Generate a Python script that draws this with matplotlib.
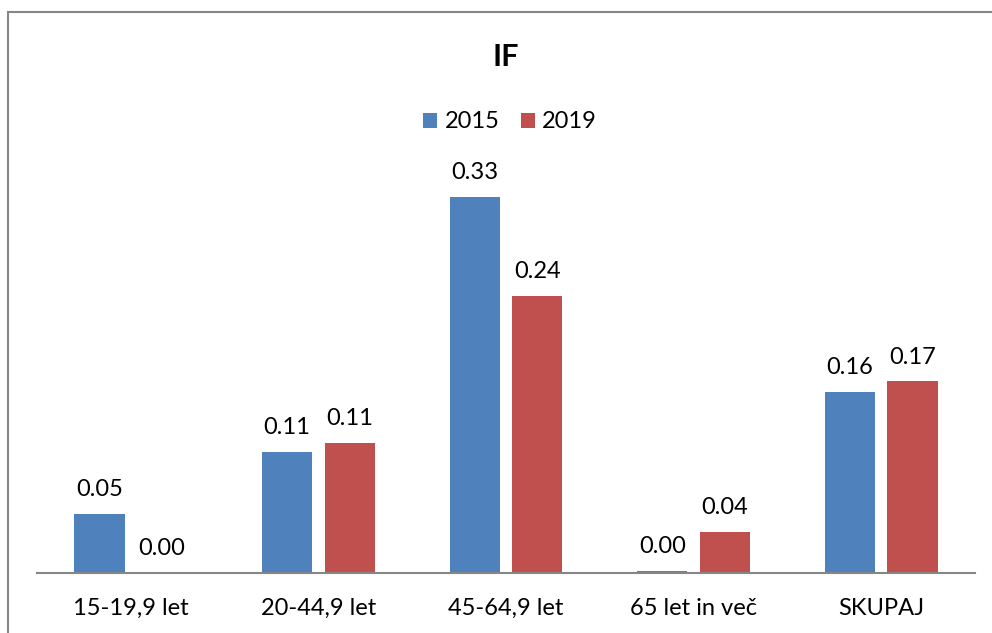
import numpy as np
import matplotlib
matplotlib.use("Agg")
import matplotlib.pyplot as plt
from matplotlib.patches import Rectangle

categories = ['15-19,9 let', '20-44,9 let', '45-64,9 let', '65 let in več', 'SKUPAJ']
years = ['2015', '2019']
vals_2015 = [0.052, 0.106, 0.33, 0.002, 0.159]
vals_2019 = [0.0, 0.114, 0.243, 0.036, 0.168]

colors = ['#4F81BD', '#C0504D']

plt.rcParams['font.family'] = ['Lato', 'DejaVu Sans']

fig = plt.figure(figsize=(9.92, 6.33), dpi=100)
ax = fig.add_axes([37 / 992, 1 - 573 / 633, 938 / 992, 399 / 633])

x = np.arange(len(categories))
w = 0.267
off = 0.167

for i, (vals, c) in enumerate(zip([vals_2015, vals_2019], colors)):
	pos = x + (-off if i == 0 else off)
	bars = ax.bar(pos, vals, width=w, color=c, label=years[i])
	for b, v in zip(bars, vals):
		ax.annotate('%.2f' % v, (b.get_x() + b.get_width() / 2, v),
			xytext=(0, 10), textcoords='offset points',
			ha='center', va='bottom', fontsize=17, color='black')

ax.set_xlim(-0.5, len(categories) - 0.5)
ax.set_ylim(0, 0.35)
ax.set_xticks(x)
ax.set_xticklabels(categories, fontsize=17)
ax.tick_params(axis='x', length=0, pad=18)
ax.set_yticks([])
for s in ['top', 'right', 'left']:
	ax.spines[s].set_visible(False)
ax.spines['bottom'].set_color('#868686')
ax.spines['bottom'].set_linewidth(1.5)

fig.text(506 / 992, 1 - 57 / 633, 'IF', ha='center', va='center',
	fontsize=22, fontweight='bold')

leg = fig.legend(loc='center', bbox_to_anchor=(510 / 992, 1 - 122 / 633),
	ncol=2, frameon=False, fontsize=17, handlelength=0.6, handleheight=0.6,
	handletextpad=0.3, columnspacing=0.9)

# chart border
fig.patches.append(Rectangle((8 / 992, -0.1), 2.0, 1 - 12 / 633 + 0.1,
	transform=fig.transFigure, fill=False, edgecolor='#868686', linewidth=1.5))

fig.savefig('out.png', dpi=100)
